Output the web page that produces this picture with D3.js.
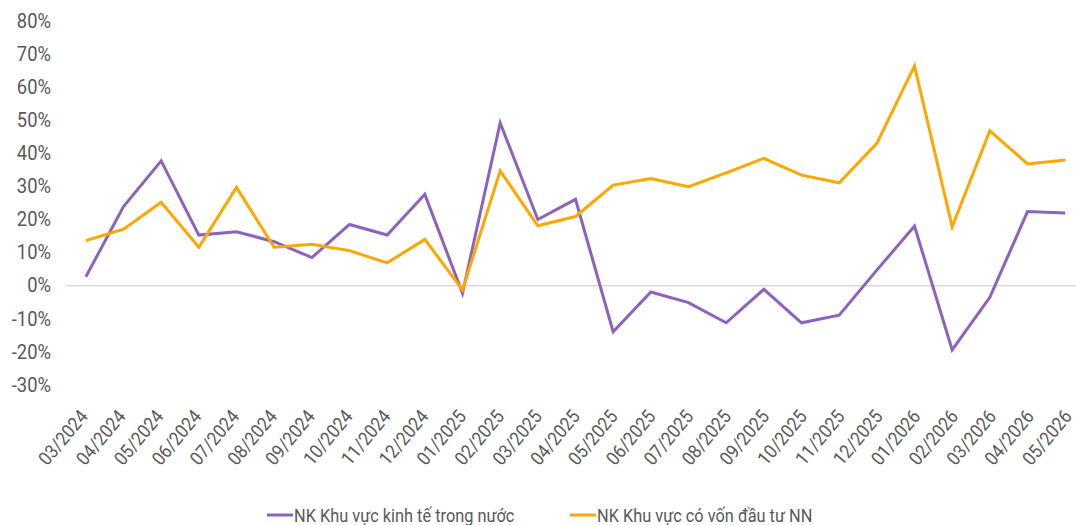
<!DOCTYPE html>
<html>
<head>
<meta charset="utf-8">
<script src="https://cdn.jsdelivr.net/npm/d3@7"></script>
<style>
  html, body { margin: 0; padding: 0; background: #fff; }
  svg { display: block; }
  text { font-family: Roboto, "Noto Sans", sans-serif; fill: #595959; }
</style>
</head>
<body>
<svg id="chart" width="1076" height="525"></svg>
<script>
const categories = ["03/2024","04/2024","05/2024","06/2024","07/2024","08/2024","09/2024","10/2024","11/2024","12/2024",
  "01/2025","02/2025","03/2025","04/2025","05/2025","06/2025","07/2025","08/2025","09/2025","10/2025","11/2025","12/2025",
  "01/2026","02/2026","03/2026","04/2026","05/2026"];
const domestic = [2.7, 23.9, 37.7, 15.3, 16.3, 13.3, 8.5, 18.5, 15.3, 27.6,
  -2.3, 49.2, 20.0, 26.1, -13.9, -1.9, -5.1, -11.2, -1.1, -11.2, -8.9, 4.7,
  18.0, -19.4, -3.5, 22.4, 22.0];
const fdi = [13.6, 17.1, 25.2, 11.6, 29.7, 11.6, 12.5, 10.6, 6.9, 14.0,
  -1.3, 34.7, 18.1, 20.9, 30.4, 32.4, 29.9, 34.1, 38.5, 33.4, 31.1, 43.0,
  66.4, 17.8, 46.8, 36.8, 38.0];
const yTicks = [-30, -20, -10, 0, 10, 20, 30, 40, 50, 60, 70, 80];
const seriesNames = ["NK Khu vực kinh tế trong nước", "NK Khu vực có vốn đầu tư NN"];
const colors = ["#8c62be", "#ffa600"];

const svg = d3.select("#chart");
const x = d3.scaleBand().domain(categories).range([67, 1084]);
const y = d3.scaleLinear().domain([-30, 80]).range([385, 20.9]);
const cx = d => x(d) + x.bandwidth() / 2;

// y labels
svg.append("g").selectAll("text").data(yTicks).join("text")
  .attr("transform", d => `translate(51,${y(d)}) scale(0.92,1)`)
  .attr("text-anchor", "end").attr("dominant-baseline", "central")
  .style("font-size", "20px")
  .text(d => d + "%");

// zero line
svg.append("line")
  .attr("x1", 67).attr("x2", 1076)
  .attr("y1", y(0)).attr("y2", y(0))
  .attr("stroke", "#d9d9d9").attr("stroke-width", 1.5);

// x labels
svg.append("g").selectAll("text").data(categories).join("text")
  .attr("transform", (d, i) => `translate(${cx(d) + 3 + i * 0.18},417) rotate(-50) scale(0.9,1)`)
  .attr("text-anchor", "end")
  .style("font-size", "19px")
  .text(d => d);

const line = d3.line().x((d, i) => cx(categories[i])).y(d => y(d));
[domestic, fdi].forEach((s, k) => {
  svg.append("path").datum(s)
    .attr("d", line)
    .attr("fill", "none")
    .attr("stroke", colors[k])
    .attr("stroke-width", 3)
    .attr("stroke-linejoin", "miter");
});

// legend
const legendX = [267, 570];
seriesNames.forEach((n, k) => {
  const g = svg.append("g").attr("transform", `translate(${legendX[k]},0)`);
  g.append("line").attr("x1", 0).attr("x2", 26).attr("y1", 515).attr("y2", 515)
    .attr("stroke", colors[k]).attr("stroke-width", 3);
  g.append("text").attr("transform", "translate(27,522) scale(0.86,1)")
    .style("font-size", "19px").text(n);
});
</script>
</body>
</html>
